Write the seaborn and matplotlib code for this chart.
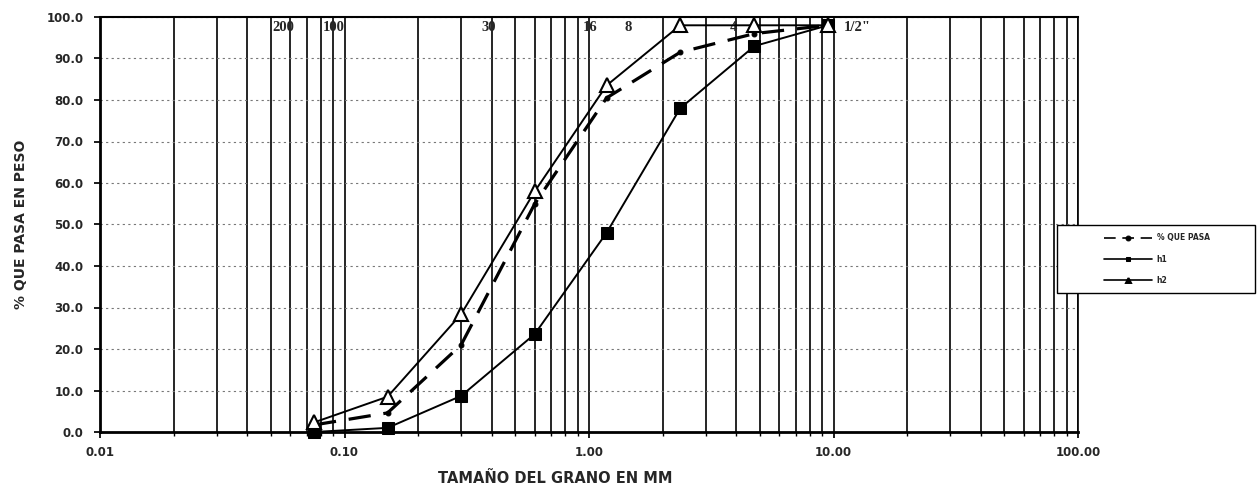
import numpy as np
import pandas as pd
import seaborn as sns
import matplotlib
matplotlib.use("Agg")
import matplotlib.pyplot as plt
from matplotlib.patches import Rectangle
from matplotlib.ticker import FixedLocator, FuncFormatter, LogLocator, NullFormatter

# ---- data ----
sieve_mm = [0.075, 0.15, 0.30, 0.60, 1.18, 2.36, 4.75, 9.50]
que_pasa = [1.7, 4.6, 21.0, 55.0, 80.5, 91.5, 96.0, 98.0]
h1 = [0.0, 1.0, 8.7, 23.6, 48.0, 78.0, 93.0, 98.0]
h2 = [2.3, 8.5, 28.4, 58.0, 83.5, 98.0, 98.0, 98.0]
series_names = ["% QUE PASA", "h1", "h2"]

sieve_labels = ["200", "100", "30", "16", "8", "4", "1/2\""]
sieve_label_x = [0.056, 0.090, 0.39, 1.01, 1.44, 3.9, 12.5]

y_ticks = [0, 10, 20, 30, 40, 50, 60, 70, 80, 90, 100]
x_major = [0.01, 0.1, 1, 10, 100]

sns.set_theme(style="white")
plt.rcParams['font.family'] = ['DejaVu Sans']

fig = plt.figure(figsize=(12.58, 4.95), dpi=100)
ax = fig.add_axes([100/1258, 1-432/495, 978/1258, 415/495])

df = pd.DataFrame({"x": sieve_mm * 3,
                   "y": que_pasa + h1 + h2,
                   "serie": [series_names[0]]*8 + [series_names[1]]*8 + [series_names[2]]*8})

d0 = df[df.serie == series_names[0]]
d1 = df[df.serie == series_names[1]]
d2 = df[df.serie == series_names[2]]

sns.lineplot(data=d0, x="x", y="y", ax=ax, color="black", linewidth=2.3,
             linestyle=(0, (7, 4)), marker="o", markersize=3.5, markeredgecolor="black",
             label=series_names[0], clip_on=False, zorder=5)
sns.lineplot(data=d1, x="x", y="y", ax=ax, color="black", linewidth=1.4,
             marker="s", markersize=8.5, markeredgecolor="black", markerfacecolor="black",
             label=series_names[1], clip_on=False, zorder=6)
sns.lineplot(data=d2, x="x", y="y", ax=ax, color="black", linewidth=1.4,
             marker="^", markersize=9.5, markeredgecolor="black", markerfacecolor="white",
             markeredgewidth=1.5, label=series_names[2], clip_on=False, zorder=7)

ax.set_xscale("log")
ax.set_xlim(0.01, 100)
ax.set_ylim(0, 100)

ax.xaxis.set_major_locator(FixedLocator(x_major))
ax.xaxis.set_major_formatter(FuncFormatter(lambda v, p: f"{v:.2f}"))
ax.xaxis.set_minor_locator(LogLocator(base=10, subs=np.arange(2, 10)))
ax.xaxis.set_minor_formatter(NullFormatter())
ax.yaxis.set_major_locator(FixedLocator(y_ticks))
ax.yaxis.set_major_formatter(FuncFormatter(lambda v, p: f"{v:.1f}"))

ax.grid(False)
ax.grid(True, which="both", axis="x", color="black", linewidth=1.2, linestyle="-", zorder=1)
ax.grid(True, which="major", axis="y", color="#777777", linewidth=0.8, linestyle=(0, (2, 3)), zorder=1)
ax.set_axisbelow(True)

for s in ["left", "bottom"]:
    ax.spines[s].set_linewidth(2.0)
    ax.spines[s].set_color("black")
ax.spines["top"].set_linewidth(1.5)
ax.spines["top"].set_color("black")
ax.spines["right"].set_linewidth(1.2)
ax.spines["right"].set_color("black")

ax.tick_params(axis="both", which="major", labelsize=8.5, length=4, color="black",
               direction="out", left=True, bottom=True)
ax.tick_params(axis="x", which="minor", length=3, bottom=True, color="black")
ax.tick_params(axis="x", which="major", pad=6)
ax.tick_params(axis="y", which="major", pad=8)
for lab in ax.get_xticklabels() + ax.get_yticklabels():
    lab.set_fontweight("bold")

ax.set_xlabel("TAMAÑO DEL GRANO EN MM", fontsize=10.5, fontweight="bold")
ax.set_ylabel("% QUE PASA EN PESO", fontsize=10, fontweight="bold")
ax.xaxis.set_label_coords(0.465, -0.095)
ax.yaxis.set_label_coords(-0.0736, 0.5)

for lab, xv in zip(sieve_labels, sieve_label_x):
    ax.text(xv, 97.5, lab, ha="center", va="center", fontsize=10.5,
            fontfamily="Liberation Serif", fontweight="bold", zorder=4)

# legend frame (drawn separately so the entries sit centred in a wide box)
frame = Rectangle((1057/1258, 1-293/495), 198/1258, 68/495, transform=fig.transFigure,
                  facecolor="white", edgecolor="black", linewidth=1.0, zorder=9,
                  clip_on=False)
ax.add_artist(frame)

leg = ax.legend(loc="center", bbox_to_anchor=(1157/1258, 1-259/495),
                bbox_transform=fig.transFigure, fontsize=5.5, frameon=False,
                handlelength=6.3, handletextpad=0.6, borderpad=0.5, labelspacing=1.6,
                borderaxespad=0)
for t in leg.get_texts():
    t.set_fontweight("bold")
for h in leg.legend_handles:
    h.set_markersize(3.5)
    h.set_markerfacecolor("black")
    h.set_linewidth(1.2)
leg.set_zorder(10)

fig.savefig("out.png", dpi=100)
